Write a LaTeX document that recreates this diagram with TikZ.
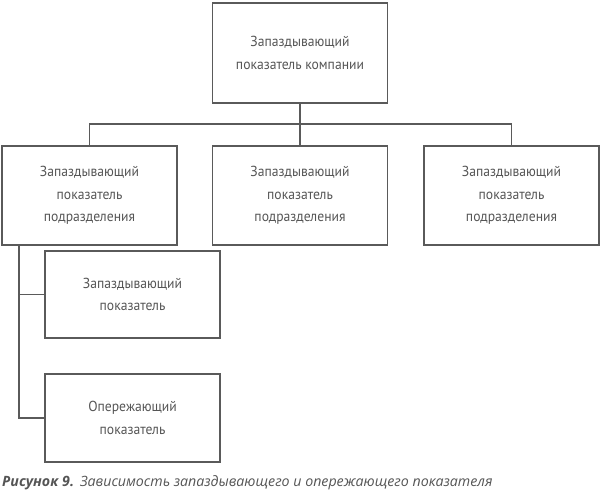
\documentclass[tikz,border=0pt]{standalone}
\usepackage{fontspec}
\newfontfamily\boxfont[FakeStretch=0.94]{PT Sans}
\newfontfamily\capfont{Open Sans}
\definecolor{linegray}{HTML}{5A5A5A}
\definecolor{textgray}{HTML}{555555}
\begin{document}
\begin{tikzpicture}[x=1pt, y=1pt,
  box/.style={draw=linegray, line width=1.2pt, minimum width=175pt, align=center,
    text=textgray, font=\boxfont\fontsize{14.5}{22.5}\selectfont, inner sep=0pt}]
\useasboundingbox (0,0) rectangle (600,-494);
\node[box, minimum height=100pt] (top) at (300,-53){Запаздывающий\\показатель компании};
\node[box, minimum height=99pt] (div1) at (89.5,-195.5){Запаздывающий\\показатель\\подразделения};
\node[box, minimum height=99pt] (div2) at (300,-195.5){Запаздывающий\\показатель\\подразделения};
\node[box, minimum height=99pt] (div3) at (511.5,-195.5){Запаздывающий\\показатель\\подразделения};
\node[box, minimum height=87pt] (lag) at (132.5,-294.5){Запаздывающий\\показатель};
\node[box, minimum height=88pt] (lead) at (132.5,-418){Опережающий\\показатель};
\coordinate (bus) at (300,-124);
\coordinate (spine) at (19,-245);
\draw[linegray, line width=1.2pt](top.south) -- (div2.north);
\draw[linegray, line width=1.2pt](div1.north) |- (bus) -| (div3.north);
\draw[linegray, line width=1.2pt](spine) |- (lag.west);
\draw[linegray, line width=1.2pt](spine) |- (lead.west);
\node[anchor=base west, inner sep=0pt, text=textgray, font=\capfont\itshape\fontsize{14.2}{16}\selectfont] (cap) at (2,-486){\textbf{Рисунок 9.}\hspace{6pt}Зависимость запаздывающего и опережающего показателя};
\end{tikzpicture}
\end{document}
